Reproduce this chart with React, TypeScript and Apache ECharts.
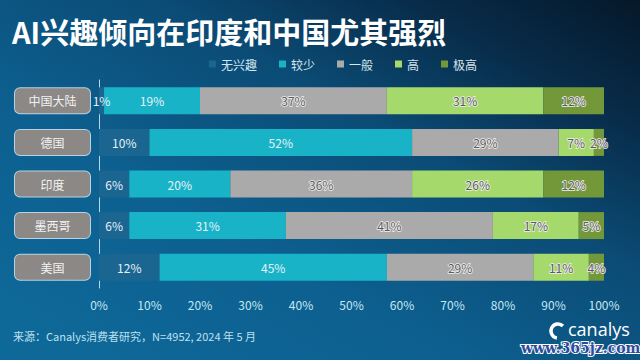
import React, { useEffect, useRef } from "react";
import * as echarts from "echarts";

const categories = ["中国大陆", "德国", "印度", "墨西哥", "美国"];
const seriesNames = ["无兴趣", "较少", "一般", "高", "极高"];
const noInterest = [1, 10, 6, 6, 12];
const little = [19, 52, 20, 31, 45];
const average = [37, 29, 36, 41, 29];
const high = [31, 7, 26, 17, 11];
const veryHigh = [12, 2, 12, 5, 4];
const xTicks = [0, 10, 20, 30, 40, 50, 60, 70, 80, 90, 100];

const titleText = "AI兴趣倾向在印度和中国尤其强烈";
const sourceText = "来源：Canalys消费者研究，N=4952, 2024 年 5 月";

const colors = ["#1b6591", "#19b3c7", "#aaaaaa", "#a6d96b", "#73983a"];
const FONT = "'Noto Sans CJK SC', 'Noto Sans', sans-serif";

export default function App() {
  const ref = useRef<HTMLDivElement>(null);
  useEffect(() => {
    if (!ref.current) return;
    const chart = echarts.init(ref.current, undefined, { renderer: "svg" });
    const values = [noInterest, little, average, high, veryHigh];
    const series = values.map((arr, i) => ({
      name: seriesNames[i],
      type: "bar",
      stack: "total",
      barWidth: 27,
      data: arr,
      itemStyle: { color: colors[i] },
      label: {
        show: true,
        position: "inside",
        formatter: "{c}%",
        fontSize: 12,
        fontFamily: FONT,
        color: i < 2 ? "#e4f2f7" : "#5a5a5a",
        textBorderColor: i < 2 ? "transparent" : "#f0f0f0",
        textBorderWidth: i < 2 ? 0 : 1.5,
      },
    }));
    chart.setOption({
      animation: false,
      backgroundColor: "transparent",
      textStyle: { fontFamily: FONT },
      title: {
        text: titleText,
        left: 7,
        top: 11,
        textStyle: { color: "#ffffff", fontSize: 29, fontWeight: "bold", fontFamily: FONT },
      },
      legend: {
        data: seriesNames,
        left: 204,
        top: 53,
        itemWidth: 7,
        itemHeight: 7,
        itemGap: 22,
        icon: "rect",
        textStyle: { color: "#d4e6ee", fontSize: 12, fontFamily: FONT },
      },
      grid: { left: 99, right: 36, top: 80, bottom: 72, containLabel: false },
      xAxis: {
        type: "value",
        min: 0,
        max: 100,
        interval: 10,
        axisLine: { show: false },
        axisTick: { show: false },
        splitLine: { show: false },
        axisLabel: {
          margin: 10,
          color: "#c4e8f2",
          fontSize: 12,
          fontFamily: FONT,
          formatter: (v: number) => (xTicks.includes(v) ? v + "%" : ""),
        },
      },
      yAxis: {
        type: "category",
        inverse: true,
        data: categories,
        axisLine: { show: true, lineStyle: { color: "#b8d8e8", width: 1 } },
        axisTick: { show: false },
        axisLabel: {
          margin: 9,
          formatter: (v: string) => "{b|" + v + "}",
          rich: {
            b: {
              width: 75,
              height: 25,
              align: "center",
              verticalAlign: "middle",
              backgroundColor: "#8b8886",
              borderColor: "#b5d3e3",
              borderWidth: 1,
              borderRadius: 5,
              color: "#f2f2f2",
              fontSize: 12,
              fontFamily: FONT,
            },
          },
        },
      },
      graphic: [
        {
          type: "text",
          left: 13,
          top: 330,
          style: { text: sourceText, fill: "#bfe0ee", fontSize: 11, fontFamily: FONT },
        },
        {
          type: "arc",
          shape: { cx: 558, cy: 331, r: 7, startAngle: Math.PI * 0.55, endAngle: Math.PI * 1.75 },
          style: { stroke: "#ffffff", lineWidth: 3.5, fill: "none" },
        },
        {
          type: "text",
          left: 568,
          top: 320,
          style: { text: "canalys", fill: "#ffffff", fontSize: 18, fontFamily: "'Open Sans', sans-serif" },
        },
        {
          type: "text",
          left: 520,
          top: 340,
          style: {
            text: "www.365jz.com",
            fill: "#2b4c9c",
            stroke: "#ffffff",
            lineWidth: 2,
            fontSize: 14,
            fontWeight: "bold",
            fontFamily: "'DejaVu Serif', serif",
          },
        },
      ],
      series,
    });
    return () => chart.dispose();
  }, []);
  return (
    <div
      ref={ref}
      style={{
        position: "fixed",
        left: 0,
        top: 0,
        width: 640,
        height: 360,
        background:
          "linear-gradient(to top right, #0e6a9a 0%, #0d6090 35%, #0b4c76 62%, #082c4a 82%, #051829 100%)",
      }}
    />
  );
}
